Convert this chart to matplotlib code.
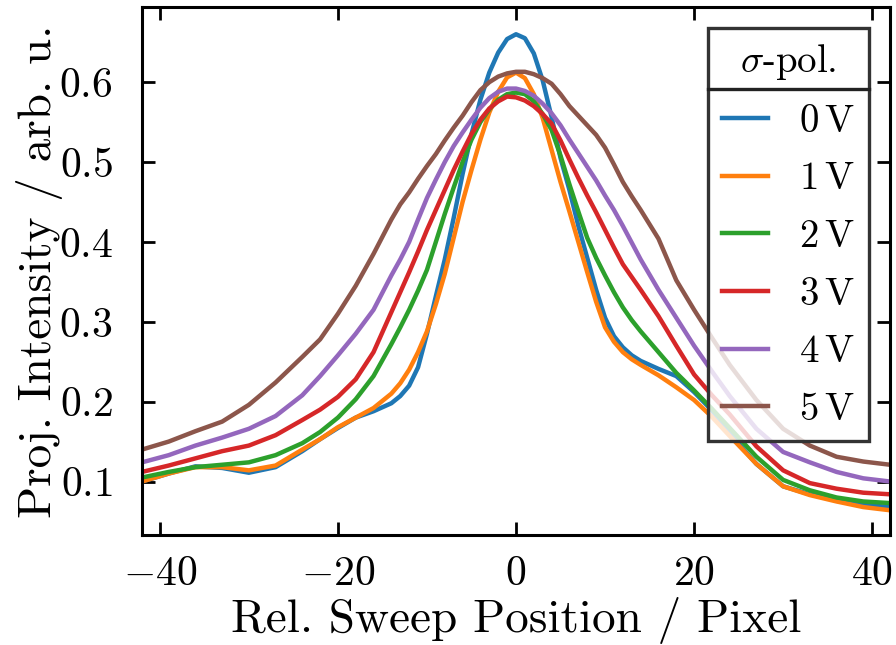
import numpy as np
import matplotlib
matplotlib.use('Agg')
import matplotlib.pyplot as plt
from matplotlib.lines import Line2D

plt.rcParams['font.family'] = 'serif'
plt.rcParams['font.serif'] = ['cmr10']
plt.rcParams['mathtext.fontset'] = 'cm'
plt.rcParams['axes.formatter.use_mathtext'] = True
plt.rcParams['axes.unicode_minus'] = True

# relative sweep position (pixel)
pos = [-42, -39, -36, -33, -30, -27, -24,
       -22, -20, -18, -16, -14, -13, -12, -11,
       -10, -9, -8, -7, -6, -5, -4, -3, -2, -1, 0, 1, 2, 3, 4, 5, 6, 7, 8, 9, 10,
       11, 12, 13, 14, 16, 18, 20, 22, 24,
       27, 30, 33, 36, 39, 42]

# projected intensity per applied voltage
v0 = [0.100, 0.110, 0.119, 0.117, 0.111, 0.118, 0.138,
      0.153, 0.167, 0.180, 0.188, 0.198, 0.207, 0.220, 0.243,
      0.285, 0.332, 0.378, 0.430, 0.485, 0.535, 0.578, 0.612, 0.637, 0.654, 0.660, 0.655, 0.636, 0.602, 0.556, 0.505, 0.465, 0.420, 0.380, 0.340, 0.305,
      0.282, 0.268, 0.258, 0.251, 0.241, 0.232, 0.212, 0.189, 0.160,
      0.122, 0.094, 0.084, 0.077, 0.071, 0.068]
v1 = [0.100, 0.110, 0.118, 0.118, 0.114, 0.120, 0.140,
      0.153, 0.168, 0.180, 0.192, 0.210, 0.223, 0.240, 0.262,
      0.288, 0.322, 0.360, 0.405, 0.450, 0.490, 0.528, 0.562, 0.588, 0.606, 0.612, 0.605, 0.585, 0.555, 0.515, 0.475, 0.438, 0.400, 0.362, 0.325, 0.293,
      0.275, 0.262, 0.253, 0.246, 0.233, 0.218, 0.202, 0.181, 0.157,
      0.122, 0.094, 0.083, 0.075, 0.068, 0.064]
v2 = [0.105, 0.112, 0.118, 0.121, 0.124, 0.133, 0.148,
      0.162, 0.180, 0.203, 0.232, 0.272, 0.293, 0.315, 0.339,
      0.365, 0.400, 0.435, 0.468, 0.500, 0.528, 0.550, 0.566, 0.578, 0.585, 0.587, 0.585, 0.576, 0.560, 0.540, 0.508, 0.472, 0.438, 0.405, 0.380, 0.358,
      0.337, 0.318, 0.302, 0.288, 0.262, 0.236, 0.214, 0.191, 0.167,
      0.131, 0.102, 0.089, 0.080, 0.075, 0.073]
v3 = [0.112, 0.120, 0.129, 0.138, 0.145, 0.158, 0.177,
      0.190, 0.206, 0.228, 0.262, 0.312, 0.337, 0.362, 0.388,
      0.415, 0.440, 0.465, 0.490, 0.513, 0.535, 0.553, 0.567, 0.576, 0.582, 0.581, 0.577, 0.570, 0.560, 0.548, 0.527, 0.503, 0.480, 0.458, 0.437, 0.415,
      0.393, 0.372, 0.356, 0.340, 0.307, 0.270, 0.234, 0.208, 0.184,
      0.144, 0.114, 0.098, 0.091, 0.086, 0.084]
v4 = [0.124, 0.133, 0.145, 0.155, 0.166, 0.182, 0.208,
      0.232, 0.258, 0.285, 0.315, 0.358, 0.378, 0.400, 0.428,
      0.455, 0.478, 0.500, 0.520, 0.537, 0.553, 0.568, 0.580, 0.588, 0.592, 0.592, 0.589, 0.583, 0.573, 0.561, 0.546, 0.528, 0.511, 0.494, 0.477, 0.458,
      0.440, 0.420, 0.399, 0.378, 0.340, 0.305, 0.270, 0.238, 0.207,
      0.166, 0.137, 0.124, 0.112, 0.104, 0.100]
v5 = [0.140, 0.150, 0.163, 0.175, 0.196, 0.224, 0.256,
      0.278, 0.310, 0.345, 0.385, 0.428, 0.447, 0.462, 0.479,
      0.495, 0.510, 0.527, 0.543, 0.558, 0.575, 0.590, 0.600, 0.607, 0.611, 0.613, 0.613, 0.610, 0.605, 0.598, 0.585, 0.570, 0.558, 0.546, 0.534, 0.518,
      0.497, 0.475, 0.457, 0.440, 0.404, 0.352, 0.315, 0.280, 0.246,
      0.202, 0.166, 0.145, 0.131, 0.125, 0.121]

labels = [r'0$\,$V', r'1$\,$V', r'2$\,$V', r'3$\,$V', r'4$\,$V', r'5$\,$V']
series = [v0, v1, v2, v3, v4, v5]

fig = plt.figure(figsize=(8.96, 6.45), dpi=100)
ax = fig.add_axes([0.1585, 0.1705, 0.8348, 0.8185])

for vals, lab in zip(series, labels):
    ax.plot(pos, vals, lw=3.2, label=lab, solid_joinstyle='round')

ax.set_xlim(-42, 42)
ax.set_ylim(0.033, 0.694)
ax.set_xticks([-40, -20, 0, 20, 40])
ax.set_yticks([0.1, 0.2, 0.3, 0.4, 0.5, 0.6])
ax.tick_params(direction='in', top=True, right=True, length=9.5, width=2.0, labelsize=30)
ax.tick_params(axis='x', pad=15)
ax.tick_params(axis='y', pad=21)
for sp in ax.spines.values():
    sp.set_linewidth(2.2)

ax.set_xlabel('Rel. Sweep Position / Pixel', fontsize=34, labelpad=3)
ax.set_ylabel('Proj. Intensity / arb. u.', fontsize=34, labelpad=-3)

leg = ax.legend(title=r'$\sigma$-pol.', loc='upper right', fontsize=28, title_fontsize=28,
                fancybox=False, handlelength=1.2,
                labelspacing=0.56, borderpad=0.35, handletextpad=0.8, borderaxespad=0.55)
frame = leg.get_frame()
frame.set_alpha(None)
frame.set_facecolor((1, 1, 1, 0.8))
frame.set_edgecolor('#333333')
frame.set_linewidth(2.4)

# separator line below the legend title
fig.canvas.draw()
fb = frame.get_window_extent()
tb = leg.get_title().get_window_extent()
inv = fig.transFigure.inverted()
ysep = tb.y0 - 7
(x0, y0) = inv.transform((fb.x0, ysep))
(x1, _) = inv.transform((fb.x1, ysep))
fig.add_artist(Line2D([x0, x1], [y0, y0], transform=fig.transFigure, color='#222222', lw=2.4, zorder=10))

fig.savefig('out.png', dpi=100)
